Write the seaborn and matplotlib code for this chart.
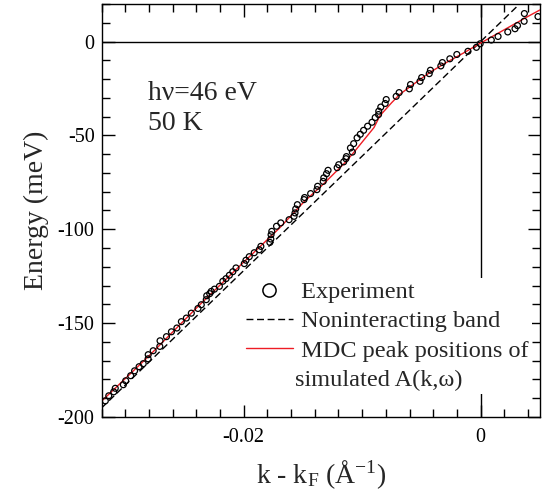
import numpy as np
import pandas as pd
import matplotlib
matplotlib.use("Agg")
import matplotlib.pyplot as plt
from matplotlib.lines import Line2D
from matplotlib.ticker import MultipleLocator
import seaborn as sns

# MDC dispersion: measured peak positions (k - kF in 1/Å, energy in meV)
exp_k = [-0.03168, -0.03139, -0.03097, -0.03084, -0.03016, -0.02996, -0.02954, -0.02921,
         -0.02883, -0.02848, -0.02807, -0.02806, -0.02764, -0.02708, -0.02706, -0.02652,
         -0.02610, -0.02564, -0.02526, -0.02484, -0.02442, -0.02386, -0.02358, -0.02316,
         -0.02312, -0.02287, -0.02274, -0.02247, -0.02205, -0.02176, -0.02149, -0.02121,
         -0.02092, -0.02065, -0.01995, -0.01981, -0.01953, -0.01911, -0.01869, -0.01855,
         -0.01779, -0.01771, -0.01769, -0.01763, -0.01723, -0.01687, -0.01617, -0.01575,
         -0.01567, -0.01561, -0.01547, -0.01491, -0.01486, -0.01435, -0.01382, -0.01376,
         -0.01329, -0.01324, -0.01301, -0.01288, -0.01211, -0.01198, -0.01156, -0.01137,
         -0.01133, -0.01083, -0.01099, -0.01072, -0.01043, -0.01016, -0.00988, -0.00954,
         -0.00917, -0.00890, -0.00862, -0.00860, -0.00843, -0.00806, -0.00797, -0.00713,
         -0.00688, -0.00602, -0.00592, -0.00512, -0.00498, -0.00434, -0.00424, -0.00336,
         -0.00323, -0.00260, -0.00201, -0.00107, -0.00036, -0.00004, 0.00090, 0.00147,
         0.00229, 0.00290, 0.00311, 0.00367, 0.00369, 0.00484]
exp_E = [-191.4, -188.7, -186.6, -184.7, -182.8, -180.7, -178.0, -175.4,
         -173.2, -171.6, -169.0, -166.8, -164.7, -162.4, -159.4, -157.2,
         -154.6, -152.6, -149.2, -147.3, -144.7, -142.2, -140.2, -137.5,
         -135.4, -134.3, -133.1, -131.9, -130.4, -127.7, -126.3, -124.5,
         -122.6, -120.6, -118.3, -116.5, -114.6, -112.5, -110.9, -109.1,
         -107.0, -105.2, -102.9, -101.1, -98.4, -96.6, -94.9, -93.1,
         -91.3, -89.2, -86.9, -84.2, -83.1, -81.0, -78.9, -77.1,
         -74.5, -72.6, -70.4, -68.6, -67.2, -65.6, -64.1, -62.4,
         -61.3, -58.9, -56.7, -54.4, -51.3, -49.4, -47.3, -45.1,
         -43.0, -40.5, -38.9, -37.1, -34.9, -33.0, -30.9, -29.2,
         -27.2, -25.2, -22.9, -21.2, -19.2, -17.1, -15.3, -13.0,
         -11.2, -9.2, -6.9, -5.2, -3.1, -1.2, 0.8, 2.7,
         5.1, 6.8, 8.5, 10.8, 14.9, 13.3]

# Noninteracting (bare) band
bare_k = [-0.0320, 0.0034]
bare_E = [-195.2, 20.7]

# MDC peak positions of the simulated spectral function
sim_k = [-0.0319, -0.0280, -0.0240, -0.0200, -0.0170, -0.0149, -0.0132, -0.0114,
         -0.0107, -0.0098, -0.0090, -0.0085, -0.0075, -0.0068, -0.0057, -0.0043,
         -0.0029, -0.0015, 0.0000, 0.0020, 0.0040, 0.0050]
sim_E = [-191.0, -167.5, -142.0, -117.5, -99.5, -85.3, -75.5, -64.2,
         -59.0, -52.0, -45.8, -39.5, -32.5, -28.0, -22.9, -16.5,
         -11.2, -6.3, -0.8, 6.3, 13.4, 16.8]

x_ticks = [-0.02, 0.0]
x_ticklabels = ["-0.02", "0"]
y_ticks = [-200, -150, -100, -50, 0]
y_ticklabels = ["-200", "-150", "-100", "-50", "0"]

sns.set_style("ticks")
plt.rcParams["font.family"] = ["Liberation Serif", "DejaVu Serif"]
plt.rcParams["mathtext.fontset"] = "custom"
plt.rcParams["mathtext.rm"] = "Liberation Serif"
plt.rcParams["mathtext.it"] = "Liberation Serif:italic"

exp_df = pd.DataFrame({"k": exp_k, "E": exp_E})
bare_df = pd.DataFrame({"k": bare_k, "E": bare_E})
sim_df = pd.DataFrame({"k": sim_k, "E": sim_E})

fig = plt.figure(figsize=(5.47, 4.91), dpi=100)
ax = fig.add_axes([0.1856, 0.1507, 0.8014, 0.8412])

ax.axhline(0, color="black", lw=1.0, zorder=1)
ax.axvline(0, color="black", lw=1.0, zorder=1)

sns.lineplot(data=bare_df, x="k", y="E", ax=ax, color="black", lw=1.0,
             dashes=False, linestyle=(0, (5, 2.6)), zorder=2)
sns.lineplot(data=sim_df, x="k", y="E", ax=ax, color="#ee1c24", lw=1.0, zorder=3)
sns.scatterplot(data=exp_df, x="k", y="E", ax=ax, marker="o", s=18,
                facecolor="none", edgecolor="black", linewidth=0.9, zorder=4)

ax.set_xlim(-0.032, 0.005)
ax.set_ylim(-200, 20)
ax.set_xticks(x_ticks)
ax.set_xticklabels(x_ticklabels)
ax.set_yticks(y_ticks)
ax.set_yticklabels(y_ticklabels)
ax.xaxis.set_minor_locator(MultipleLocator(0.002))
ax.yaxis.set_minor_locator(MultipleLocator(10))
ax.tick_params(which="both", direction="in", top=True, right=True,
               width=1.0, color="black", labelsize=14.5, labelcolor="black")
ax.tick_params(which="major", length=9)
ax.tick_params(which="minor", length=6)
ax.tick_params(axis="x", pad=8)
ax.tick_params(axis="y", pad=5)
for sp in ax.spines.values():
    sp.set_linewidth(1.0)
    sp.set_color("black")

ax.set_xlabel(r"k - k$_\mathregular{F}$ (Å$^\mathregular{-1}$)", fontsize=20, labelpad=8)
ax.set_ylabel("Energy (meV)", fontsize=20, labelpad=6)

ax.text(-0.0281, -30.9, "hν=46 eV", fontsize=20, va="baseline")
ax.text(-0.0281, -46.9, "50 K", fontsize=20, va="baseline")

handles = [
    Line2D([], [], ls="none", marker="o", ms=9.5, mfc="none", mec="black", mew=1.1),
    Line2D([], [], color="black", lw=1.0, ls=(0, (5, 2.6))),
    Line2D([], [], color="#ee1c24", lw=1.0),
    Line2D([], [], ls="none"),
]
labels = [" Experiment", " Noninteracting band", " MDC peak positions of", "simulated A(k,ω)"]
leg = ax.legend(handles, labels, loc="upper left", bbox_to_anchor=(0.3227, 0.336),
                fontsize=17.5, frameon=True, facecolor="white", edgecolor="none",
                framealpha=1, fancybox=False, borderpad=0.12, borderaxespad=0,
                handlelength=1.93, handletextpad=0.1, labelspacing=0.3)
leg.set_zorder(5)

fig.savefig("out.png", dpi=100)
